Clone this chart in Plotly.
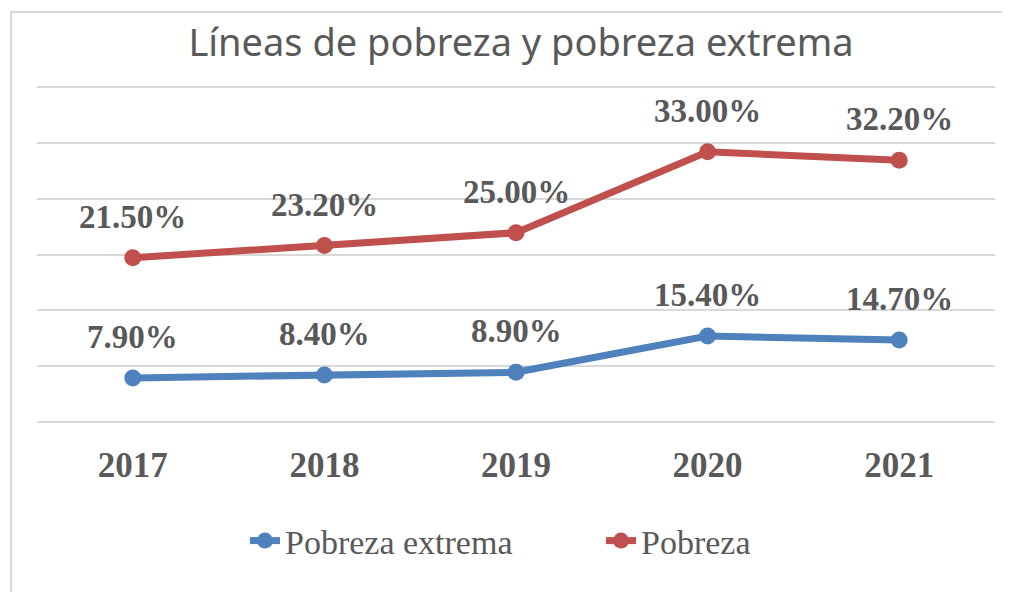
import plotly.graph_objects as go
import numpy as np

years = ["2017", "2018", "2019", "2020", "2021"]
pobreza_extrema = [7.9, 8.4, 8.9, 15.4, 14.7]
pobreza = [21.5, 23.2, 25.0, 33.0, 32.2]

BLUE = "#4F81BD"
RED = "#C0504D"
GRAY = "#595959"
SERIF = "Liberation Serif"

# stacked line chart: the 'Pobreza' line sits on top of 'Pobreza extrema'
stack_top = list(np.array(pobreza_extrema) + np.array(pobreza))

fig = go.Figure()
fig.add_trace(go.Scatter(
    x=years, y=pobreza_extrema, name="Pobreza extrema", mode="lines+markers",
    line=dict(color=BLUE, width=7), marker=dict(size=17, color=BLUE)))
fig.add_trace(go.Scatter(
    x=years, y=stack_top, name="Pobreza", mode="lines+markers",
    line=dict(color=RED, width=7), marker=dict(size=17, color=RED)))

LABEL_FONT = dict(family=SERIF, size=33, color=GRAY, weight="bold")
annots = []
for i, v in enumerate(pobreza_extrema):
    annots.append(dict(x=i, y=v, xref="x", yref="y", text=f"{v:.2f}%",
                       showarrow=False, yshift=41, font=LABEL_FONT))
for i, (v, top) in enumerate(zip(pobreza, stack_top)):
    annots.append(dict(x=i, y=top, xref="x", yref="y", text=f"{v:.2f}%",
                       showarrow=False, yshift=41, font=LABEL_FONT))

# page has an 8px body margin -> figure coordinates = page coordinates - 8
OFF = 8
W, H = 1010, 592
L = 37 - OFF
R = W - (995 - OFF)
T = 87 - OFF - 2
B = H - (422 - OFF + 2)
pw, ph = W - L - R, H - T - B
pad = 2 * 60 / (ph - 4)

fig.add_shape(type="rect", xref="paper", yref="paper",
              x0=(11 - OFF - L) / pw, x1=(1030 - L) / pw,
              y0=(H - B - 620) / ph, y1=(H - B - (12 - OFF)) / ph,
              line=dict(color="#D9D9D9", width=2), layer="below")

fig.update_layout(
    width=W, height=H,
    margin=dict(l=L, r=R, t=T, b=B, autoexpand=False),
    paper_bgcolor="white", plot_bgcolor="white",
    annotations=annots,
    title=dict(text="Líneas de pobreza y pobreza extrema", x=(521 - OFF) / W,
               xanchor="center", y=1 - (43 - OFF) / H, yanchor="middle",
               font=dict(family="Noto Sans", size=38, color=GRAY)),
    showlegend=True,
    legend=dict(orientation="h", x=(245 - OFF - L) / pw, xanchor="left",
                y=(H - B - (541 - OFF)) / ph, yanchor="middle",
                font=dict(family=SERIF, size=34, color=GRAY),
                entrywidth=311, entrywidthmode="pixels",
                traceorder="normal"),
    xaxis=dict(type="category", range=[-0.5, 4.5], showgrid=False, zeroline=False,
               showline=False, ticks="", ticklabelstandoff=17, automargin=False,
               tickfont=dict(family=SERIF, size=35, color=GRAY, weight="bold")),
    yaxis=dict(range=[0 - pad, 60 + pad], tick0=0, dtick=10, showticklabels=False,
               zeroline=False, showline=False, gridcolor="#D9D9D9", gridwidth=2,
               automargin=False),
)

fig.write_html("out.html")
